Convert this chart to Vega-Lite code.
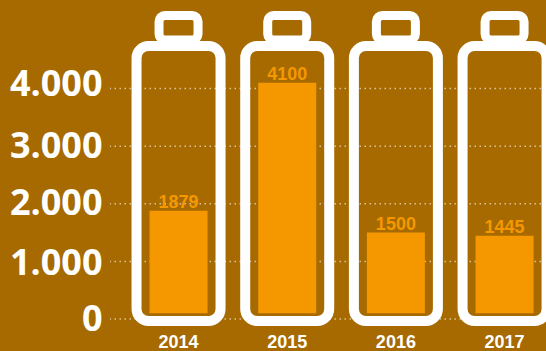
{
  "$schema": "https://vega.github.io/schema/vega-lite/v6.json",
  "width": 436,
  "height": 351,
  "padding": {"left": 110, "right": 0, "top": 0, "bottom": 0},
  "autosize": {"type": "none"},
  "background": "#A66A00",
  "view": {"stroke": null},
  "datasets": {
    "sales": [
      {"year": "2014", "value": 1879},
      {"year": "2015", "value": 4100},
      {"year": "2016", "value": 1500},
      {"year": "2017", "value": 1445}
    ],
    "levels": [
      {"level": 0},
      {"level": 1000},
      {"level": 2000},
      {"level": 3000},
      {"level": 4000}
    ]
  },
  "data": {"name": "sales"},
  "encoding": {
    "x": {
      "field": "year",
      "type": "nominal",
      "scale": {"type": "band", "range": [14.2, 448.9], "paddingInner": 0, "paddingOuter": 0},
      "axis": {
        "title": null, "domain": false, "ticks": false, "labelAngle": 0,
        "offset": -18, "labelPadding": 0,
        "labelFont": "Liberation Sans", "labelFontWeight": "bold", "labelFontSize": 18, "labelColor": "#FFFFFF"
      }
    }
  },
  "layer": [
    {
      "data": {"name": "levels"},
      "mark": {"type": "rule", "color": "#FFFFFF", "opacity": 0.6, "strokeDash": [1.5, 3.5], "strokeWidth": 1.5},
      "encoding": {
        "x": null,
        "y": {
          "field": "level",
          "type": "quantitative",
          "scale": {"domain": [-555.5, 5538], "range": [351, 0], "nice": false, "zero": false},
          "axis": {
            "title": null, "domain": false, "ticks": false, "grid": false, "values": [0, 1000, 2000, 3000, 4000],
            "labelExpr": "replace(format(datum.value, ','), ',', '.')",
            "labelFont": "Open Sans", "labelFontWeight": "bold", "labelFontSize": 36, "labelColor": "#FFFFFF", "labelPadding": 8,
            "labelOffset": {
              "condition": [
                {"test": "datum.value === 4000", "value": -4},
                {"test": "datum.value === 1000", "value": 2}
              ],
              "value": 0
            }
          }
        }
      }
    },
    {
      "mark": {"type": "bar", "width": 39, "fill": null, "stroke": "#FFFFFF", "strokeWidth": 9, "cornerRadius": 6},
      "encoding": {
        "y": {"datum": 5269, "type": "quantitative"},
        "y2": {"datum": 4844}
      }
    },
    {
      "mark": {"type": "bar", "width": 84, "fill": null, "stroke": "#FFFFFF", "strokeWidth": 10, "cornerRadius": 12},
      "encoding": {
        "y": {"datum": 4740, "type": "quantitative"},
        "y2": {"datum": -35}
      }
    },
    {
      "mark": {"type": "bar", "width": 58, "color": "#F59800"},
      "encoding": {
        "y": {"field": "value", "type": "quantitative"},
        "y2": {"datum": 100}
      }
    },
    {
      "mark": {"type": "text", "baseline": "bottom", "dy": 1, "font": "Liberation Sans", "fontWeight": "bold", "fontSize": 18, "color": "#F59800"},
      "encoding": {
        "y": {"field": "value", "type": "quantitative"},
        "text": {"field": "value", "type": "quantitative", "format": "d"}
      }
    }
  ]
}
